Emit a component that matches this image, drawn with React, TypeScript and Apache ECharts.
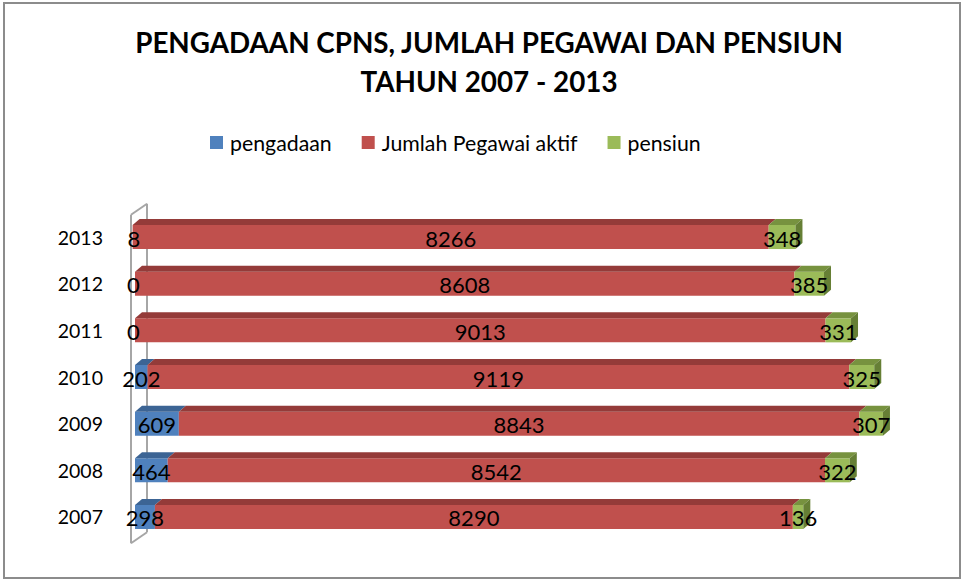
import React, { useEffect, useRef } from "react";
import * as echarts from "echarts";

const years = ["2007", "2008", "2009", "2010", "2011", "2012", "2013"];
const pengadaan = [298, 464, 609, 202, 0, 0, 8];
const pegawaiAktif = [8290, 8542, 8843, 9119, 9013, 8608, 8266];
const pensiun = [136, 322, 307, 325, 331, 385, 348];
const seriesNames = ["pengadaan", "Jumlah Pegawai aktif", "pensiun"];

const FONT = "Lato, 'Open Sans', sans-serif";
const DX = 7;
const DY = 6;

const palette = [
  { front: "#4F81BD", top: "#3C6494", side: "#33557E" },
  { front: "#C0504D", top: "#943B39", side: "#7E3230" },
  { front: "#9BBB59", top: "#77923F", side: "#667F35" },
];

function buildSeriesData(values: number[], prev: number[][]) {
  return values.map((v, i) => {
    let start = 0;
    prev.forEach((arr) => (start += arr[i]));
    return [i, start, start + v, v];
  });
}

function makeRender(colorIdx: number, isLast: boolean) {
  const col = palette[colorIdx];
  return (params: any, api: any) => {
    const ci = api.value(0);
    const s = api.value(1);
    const e = api.value(2);
    const v = api.value(3);
    const p0 = api.coord([s, ci]);
    const p1 = api.coord([e, ci]);
    const h = api.size([0, 1])[1] * 0.515;
    let x0 = p0[0];
    const x1 = p1[0];
    if (s === 0) x0 += 3;
    const yTop = p0[1] - h / 2;
    const yBot = p0[1] + h / 2;
    const children: any[] = [];
    if (x1 > x0) {
      children.push({
        type: "rect",
        shape: { x: x0, y: yTop, width: x1 - x0, height: h },
        style: { fill: col.front },
      });
      children.push({
        type: "polygon",
        shape: {
          points: [
            [x0, yTop],
            [x0 + DX, yTop - DY],
            [x1 + DX, yTop - DY],
            [x1, yTop],
          ],
        },
        style: { fill: col.top },
      });
      if (isLast) {
        children.push({
          type: "polygon",
          shape: {
            points: [
              [x1, yTop],
              [x1 + DX, yTop - DY],
              [x1 + DX, yBot - DY],
              [x1, yBot],
            ],
          },
          style: { fill: col.side },
        });
      }
    }
    children.push({
      type: "text",
      z2: 100,
      style: {
        text: String(v),
        x: (x0 + x1) / 2,
        y: p0[1] + 1,
        align: "center",
        verticalAlign: "middle",
        fill: "#000",
        font: `22px ${FONT}`,
      },
    });
    return { type: "group", children };
  };
}

function renderWall(params: any, api: any) {
  const band = api.size([0, 1])[1];
  const pTop = api.coord([0, years.length - 1]);
  const pBot = api.coord([0, 0]);
  const x = pTop[0] - 1;
  const yT = pTop[1] - band / 2 + 1;
  const yB = pBot[1] + band / 2 + 3;
  const wx = 16;
  const wy = 11;
  const style = { stroke: "#A6A6A6", lineWidth: 2, fill: "none" };
  return {
    type: "group",
    children: [
      { type: "line", shape: { x1: x, y1: yT, x2: x, y2: yB }, style },
      { type: "line", shape: { x1: x + wx, y1: yT - wy, x2: x + wx, y2: yB - wy }, style },
      { type: "line", shape: { x1: x, y1: yT, x2: x + wx, y2: yT - wy }, style },
      { type: "line", shape: { x1: x, y1: yB, x2: x + wx, y2: yB - wy }, style },
    ],
  };
}

export default function App() {
  const ref = useRef<HTMLDivElement>(null);
  useEffect(() => {
    if (!ref.current) return;
    const chart = echarts.init(ref.current, null, { renderer: "svg" });
    const d1 = buildSeriesData(pengadaan, []);
    const d2 = buildSeriesData(pegawaiAktif, [pengadaan]);
    const d3 = buildSeriesData(pensiun, [pengadaan, pegawaiAktif]);
    chart.setOption({
      animation: false,
      backgroundColor: "#fff",
      title: {
        text: "PENGADAAN CPNS, JUMLAH PEGAWAI DAN PENSIUN\nTAHUN 2007 - 2013",
        left: 484,
        top: 18,
        textAlign: "center",
        textStyle: {
          fontFamily: FONT,
          fontSize: 27.8,
          fontWeight: "bold",
          color: "#000",
          lineHeight: 39,
          align: "center",
        },
      },
      legend: {
        data: seriesNames,
        left: 205,
        top: 127,
        icon: "rect",
        itemWidth: 13,
        itemHeight: 13,
        itemGap: 30,
        textStyle: {
          fontFamily: FONT,
          fontSize: 21.3,
          color: "#000",
          padding: [0, 0, 0, 2],
        },
      },
      graphic: [
        {
          type: "rect",
          shape: { x: 4, y: 3, width: 956, height: 575 },
          style: { fill: "none", stroke: "#8C8C8C", lineWidth: 2 },
          silent: true,
        },
      ],
      grid: { left: 132, right: 61.5, top: 213.7, bottom: 38.7 },
      xAxis: {
        type: "value",
        min: 0,
        max: 10000,
        show: false,
      },
      yAxis: {
        type: "category",
        data: years,
        axisLine: { show: false },
        axisTick: { show: false },
        axisLabel: {
          fontFamily: FONT,
          fontSize: 19.5,
          color: "#000",
          margin: 29,
          padding: [6, 0, 0, 0],
        },
      },
      series: [
        {
          type: "custom",
          name: "wall",
          data: [[0]],
          renderItem: renderWall,
          silent: true,
          z: 1,
        },
        {
          type: "custom",
          name: seriesNames[0],
          data: d1,
          itemStyle: { color: palette[0].front },
          renderItem: makeRender(0, false),
          encode: { x: [1, 2], y: 0 },
          z: 2,
        },
        {
          type: "custom",
          name: seriesNames[1],
          data: d2,
          itemStyle: { color: palette[1].front },
          renderItem: makeRender(1, false),
          encode: { x: [1, 2], y: 0 },
          z: 2,
        },
        {
          type: "custom",
          name: seriesNames[2],
          data: d3,
          itemStyle: { color: palette[2].front },
          renderItem: makeRender(2, true),
          encode: { x: [1, 2], y: 0 },
          z: 2,
        },
      ],
    });
    return () => chart.dispose();
  }, []);
  return (
    <div
      ref={ref}
      style={{ position: "fixed", left: 0, top: 0, width: 963, height: 579 }}
    />
  );
}
